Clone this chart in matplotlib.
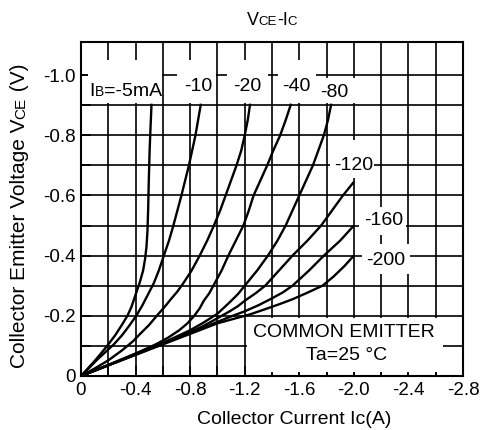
import numpy as np
import matplotlib
matplotlib.use('Agg')
import matplotlib.pyplot as plt
from matplotlib.patches import Rectangle

plt.rcParams['font.family'] = ['Liberation Sans', 'DejaVu Sans']

# Vce-Ic curves, one per base current
ic_5 = [0, -0.05, -0.10, -0.15, -0.20, -0.25, -0.30, -0.34, -0.37, -0.40, -0.43, -0.455, -0.47, -0.48,
        -0.487, -0.492, -0.497, -0.503, -0.51, -0.517]
vce_5 = [0, -0.025, -0.05, -0.077, -0.105, -0.135, -0.17, -0.20, -0.23, -0.27, -0.31, -0.35, -0.39, -0.43,
         -0.48, -0.55, -0.65, -0.75, -0.83, -0.905]

ic_10 = [0, -0.06, -0.12, -0.18, -0.24, -0.30, -0.35, -0.405, -0.45, -0.49, -0.535, -0.57, -0.607, -0.645,
         -0.677, -0.736, -0.791, -0.839, -0.879]
vce_10 = [0, -0.027, -0.055, -0.08, -0.105, -0.135, -0.165, -0.20, -0.235, -0.27, -0.31, -0.35, -0.40, -0.45,
          -0.50, -0.60, -0.70, -0.80, -0.905]

ic_20 = [0, -0.10, -0.20, -0.30, -0.38, -0.44, -0.50, -0.555, -0.61, -0.66, -0.705, -0.745, -0.81, -0.87,
         -0.925, -0.974, -1.02, -1.06, -1.10, -1.14, -1.175, -1.20, -1.222, -1.24]
vce_20 = [0, -0.025, -0.052, -0.085, -0.115, -0.143, -0.17, -0.20, -0.228, -0.256, -0.28, -0.305, -0.35, -0.40,
          -0.45, -0.50, -0.55, -0.60, -0.65, -0.70, -0.75, -0.80, -0.85, -0.905]

ic_40 = [0, -0.20, -0.40, -0.50, -0.56, -0.64, -0.72, -0.78, -0.83, -0.87, -0.90, -0.94, -0.97, -1.03,
         -1.08, -1.135, -1.19, -1.23, -1.265, -1.315, -1.365, -1.41, -1.46, -1.50, -1.54]
vce_40 = [0, -0.037, -0.075, -0.095, -0.108, -0.128, -0.152, -0.175, -0.20, -0.225, -0.25, -0.275, -0.30, -0.35,
          -0.40, -0.45, -0.50, -0.55, -0.60, -0.65, -0.70, -0.75, -0.80, -0.85, -0.905]

ic_80 = [0, -0.30, -0.60, -0.80, -0.90, -1.00, -1.09, -1.15, -1.20, -1.29, -1.37, -1.44, -1.50, -1.55,
         -1.60, -1.65, -1.70, -1.74, -1.78, -1.81, -1.835]
vce_80 = [0, -0.054, -0.11, -0.152, -0.178, -0.207, -0.245, -0.272, -0.30, -0.35, -0.40, -0.45, -0.50, -0.55,
          -0.60, -0.65, -0.70, -0.75, -0.80, -0.85, -0.905]

ic_120 = [0, -0.40, -0.80, -0.90, -1.00, -1.09, -1.15, -1.20, -1.28, -1.35, -1.45, -1.55, -1.66, -1.76,
          -1.84, -1.92, -2.0]
vce_120 = [0, -0.072, -0.145, -0.167, -0.192, -0.215, -0.232, -0.25, -0.275, -0.30, -0.35, -0.40, -0.45, -0.50,
           -0.55, -0.60, -0.645]

ic_160 = [0, -0.40, -0.80, -1.00, -1.10, -1.20, -1.30, -1.40, -1.48, -1.55, -1.67, -1.78, -1.90, -2.0]
vce_160 = [0, -0.072, -0.143, -0.18, -0.198, -0.215, -0.235, -0.258, -0.278, -0.30, -0.35, -0.40, -0.45, -0.50]

ic_200 = [0, -0.40, -0.80, -1.00, -1.12, -1.24, -1.35, -1.45, -1.55, -1.66, -1.77, -1.85, -1.93, -2.0]
vce_200 = [0, -0.07, -0.14, -0.175, -0.19, -0.205, -0.222, -0.238, -0.255, -0.277, -0.30, -0.33, -0.365, -0.40]

curves = [(ic_5, vce_5), (ic_10, vce_10), (ic_20, vce_20), (ic_40, vce_40),
          (ic_80, vce_80), (ic_120, vce_120), (ic_160, vce_160), (ic_200, vce_200)]

x_ticks = [0, -0.4, -0.8, -1.2, -1.6, -2.0, -2.4, -2.8]
x_labels = ['0', '-0.4', '-0.8', '-1.2', '-1.6', '-2.0', '-2.4', '-2.8']
y_ticks = [0, -0.2, -0.4, -0.6, -0.8, -1.0]
y_labels = ['0', '-0.2', '-0.4', '-0.6', '-0.8', '-1.0']

# curve labels: text, x, baseline y
curve_labels = [('-10', -0.86, -0.948), ('-20', -1.219, -0.948), ('-40', -1.581, -0.948),
                ('-80', -1.857, -0.926), ('-120', -2.0, -0.684), ('-160', -2.215, -0.502),
                ('-200', -2.234, -0.369)]

W, H = 481, 430
fig = plt.figure(figsize=(W / 100, H / 100), dpi=100)
ax = fig.add_axes([81 / W, 1 - 376 / H, (463 - 81) / W, (376 - 42) / H])
ax.set_xlim(0, -2.8)
ax.set_ylim(0, -1.11)

# grid drawn by hand so the white label boxes can cover it
for gx in np.arange(1, 14) * -0.2:
    ax.axvline(gx, color='black', lw=1.2, zorder=1)
for gy in np.arange(1, 11) * -0.1:
    ax.axhline(gy, color='black', lw=1.2, zorder=1)


def box(x1, x2, y1, y2):
    ax.add_patch(Rectangle((-x1, -y1), -(x2 - x1), -(y2 - y1), facecolor='white',
                           edgecolor='none', zorder=2))


box(0.049, 0.593, 0.907, 1.05)
box(0.706, 0.986, 0.907, 1.05)
box(1.071, 1.37, 0.907, 1.05)
box(1.445, 1.725, 0.907, 1.05)
box(1.725, 2.01, 0.907, 0.99)
box(1.823, 2.15, 0.658, 0.784)
box(2.04, 2.38, 0.468, 0.561)
box(2.063, 2.415, 0.34, 0.44)
box(1.215, 2.655, 0.013, 0.193)

for ic, vce in curves:
    ax.plot(ic, vce, color='black', lw=1.7, zorder=3, solid_capstyle='butt', solid_joinstyle='round')

for txt, lx, ly in curve_labels:
    ax.text(lx, ly, txt, fontsize=14, ha='center', va='baseline', zorder=4)

ax.text(-1.93, -0.13, 'COMMON EMITTER', fontsize=14, ha='center', va='baseline', zorder=4)
ax.text(-1.95, -0.053, 'Ta=25 °C', fontsize=14, ha='center', va='baseline', zorder=4)

ax.set_xticks(x_ticks)
ax.set_xticklabels(x_labels)
ax.set_yticks(y_ticks)
ax.set_yticklabels(y_labels)
ax.set_xticks(np.arange(1, 14, 2) * -0.2, minor=True)
ax.set_yticks(np.arange(1, 11, 2) * -0.1, minor=True)
ax.tick_params(which='both', direction='in', length=7, width=1.2, labelsize=13.5, pad=4)
for s in ax.spines.values():
    s.set_linewidth(1.5)
    s.set_zorder(5)

renderer = fig.canvas.get_renderer()


def rich_text(pieces, x, y, rotation=0, zorder=5):
    # pieces of (text, size) placed one after another, centred on x (or y if rotated)
    arts = [fig.text(0, 0, s, fontsize=fs, rotation=rotation, rotation_mode='anchor',
                     ha='left', va='baseline', transform=None, zorder=zorder) for s, fs in pieces]
    lens = []
    for t in arts:
        bb = t.get_window_extent(renderer)
        lens.append(bb.height if rotation == 90 else bb.width)
    total = sum(lens)
    pos = (y if rotation == 90 else x) - total / 2
    for t, L in zip(arts, lens):
        if rotation == 90:
            t.set_position((x, pos))
        else:
            t.set_position((pos, y))
        pos += L


rich_text([('V', 13), ('CE', 9.5), ('-I', 13), ('C', 9.5)], 272, H - 25)
rich_text([('Collector Emitter Voltage V', 15), ('CE', 11), (' (V)', 15)], 25, H - 216, rotation=90)
fig.text(294, H - 424, 'Collector Current Ic(A)', fontsize=14, ha='center', va='baseline', transform=None)

# IB label in the top-left box
ib_pieces = [('I', 14), ('B', 10), ('=-5mA', 14)]
lx = ax.transData.transform((-0.327, -0.93))
arts = [ax.text(0, 0, s, fontsize=fs, ha='left', va='baseline', transform=None, zorder=4) for s, fs in ib_pieces]
ws = [t.get_window_extent(renderer).width for t in arts]
p = lx[0] - sum(ws) / 2
for t, w in zip(arts, ws):
    t.set_position((p, lx[1]))
    p += w

fig.savefig('out.png', dpi=100)
